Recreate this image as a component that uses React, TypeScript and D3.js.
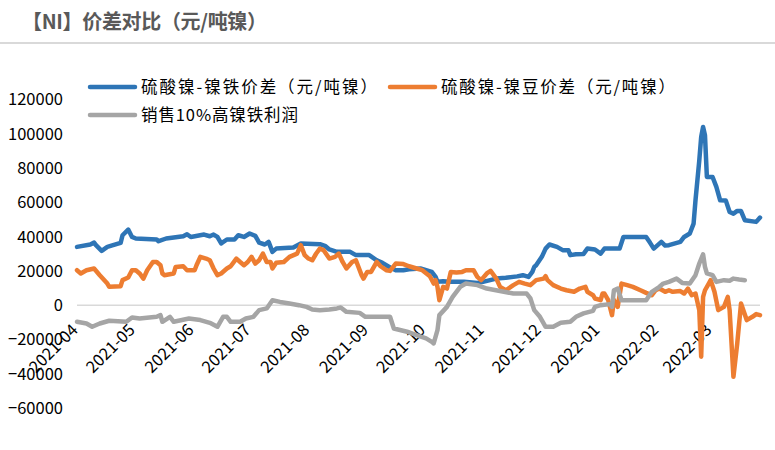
import React from 'react';
import * as d3 from 'd3';

type Pt = [string, number];

const title = '【NI】价差对比（元/吨镍）';
const seriesNames = ['硫酸镍-镍铁价差（元/吨镍）', '硫酸镍-镍豆价差（元/吨镍）', '销售10%高镍铁利润'];
const seriesColors = ['#2E75B6', '#ED7D31', '#A5A5A5'];
const yTicks = [-60000, -40000, -20000, 0, 20000, 40000, 60000, 80000, 100000, 120000];
const dateRange = ['2021-04-01', '2022-03-27'];

// 硫酸镍-镍铁价差
const sulfateNpi: Pt[] = [
  ['2021-04-01', 34000], ['2021-04-08', 35400], ['2021-04-10', 36500], ['2021-04-11', 35000],
  ['2021-04-14', 31700], ['2021-04-17', 34000], ['2021-04-20', 35000], ['2021-04-24', 36300],
  ['2021-04-25', 40800], ['2021-04-28', 44100], ['2021-04-30', 39800], ['2021-05-02', 38900],
  ['2021-05-13', 38300], ['2021-05-14', 37300], ['2021-05-18', 38900], ['2021-05-27', 40200],
  ['2021-05-29', 41400], ['2021-05-31', 39800], ['2021-06-07', 41200], ['2021-06-10', 40200],
  ['2021-06-12', 41200], ['2021-06-14', 39800], ['2021-06-16', 36000], ['2021-06-19', 38300],
  ['2021-06-23', 38300], ['2021-06-25', 40800], ['2021-06-28', 39800], ['2021-07-01', 41800],
  ['2021-07-04', 40400], ['2021-07-06', 36500], ['2021-07-09', 35400], ['2021-07-11', 36900],
  ['2021-07-13', 31100], ['2021-07-15', 33000], ['2021-07-24', 33600], ['2021-07-28', 36000],
  ['2021-08-07', 35600], ['2021-08-10', 34400], ['2021-08-12', 32500], ['2021-08-16', 31100],
  ['2021-08-23', 31100], ['2021-08-26', 29200], ['2021-09-02', 29200], ['2021-09-06', 26200],
  ['2021-09-09', 24700], ['2021-09-13', 22000], ['2021-09-16', 20400], ['2021-09-20', 20400],
  ['2021-09-23', 21000], ['2021-09-29', 21400], ['2021-10-02', 20400], ['2021-10-05', 19400],
  ['2021-10-07', 16500], ['2021-10-08', 13600], ['2021-10-11', 14000], ['2021-10-14', 13600],
  ['2021-10-22', 13600], ['2021-10-29', 13000], ['2021-11-01', 13600], ['2021-11-08', 15500],
  ['2021-11-13', 16000], ['2021-11-19', 16800], ['2021-11-22', 17500], ['2021-11-25', 16500],
  ['2021-11-27', 19400], ['2021-11-28', 22300], ['2021-11-29', 23300], ['2021-12-02', 28200],
  ['2021-12-04', 33000], ['2021-12-06', 35400], ['2021-12-10', 34000], ['2021-12-13', 32100],
  ['2021-12-16', 32100], ['2021-12-17', 29200], ['2021-12-20', 29700], ['2021-12-24', 29900],
  ['2021-12-26', 33000], ['2021-12-30', 32500], ['2022-01-02', 30100], ['2022-01-04', 33000],
  ['2022-01-12', 33000], ['2022-01-14', 39800], ['2022-01-26', 39800], ['2022-01-28', 36500],
  ['2022-01-30', 33000], ['2022-02-03', 36900], ['2022-02-05', 34800], ['2022-02-07', 35000],
  ['2022-02-13', 36900], ['2022-02-15', 39800], ['2022-02-18', 41800], ['2022-02-20', 47600],
  ['2022-02-21', 61200], ['2022-02-23', 84500], ['2022-02-24', 98100], ['2022-02-25', 104000],
  ['2022-02-26', 99100], ['2022-02-27', 74800], ['2022-03-02', 74800], ['2022-03-04', 69000],
  ['2022-03-06', 61200], ['2022-03-09', 61000], ['2022-03-11', 54400], ['2022-03-13', 53400],
  ['2022-03-15', 55000], ['2022-03-17', 54900], ['2022-03-19', 49600], ['2022-03-25', 48600],
  ['2022-03-27', 51100],
];

// 硫酸镍-镍豆价差
const sulfateBriquette: Pt[] = [
  ['2021-04-01', 20400], ['2021-04-03', 18500], ['2021-04-06', 20400], ['2021-04-10', 21400],
  ['2021-04-13', 17500], ['2021-04-17', 12600], ['2021-04-18', 10700], ['2021-04-24', 11100],
  ['2021-04-25', 14600], ['2021-04-28', 16100], ['2021-04-30', 20400], ['2021-05-02', 20400],
  ['2021-05-04', 18500], ['2021-05-06', 15500], ['2021-05-08', 20400], ['2021-05-11', 25200],
  ['2021-05-13', 25200], ['2021-05-15', 23300], ['2021-05-16', 18500], ['2021-05-17', 17500],
  ['2021-05-22', 18500], ['2021-05-23', 22300], ['2021-05-27', 22700], ['2021-05-29', 20400],
  ['2021-06-02', 20400], ['2021-06-03', 23300], ['2021-06-05', 28200], ['2021-06-08', 27200],
  ['2021-06-10', 26200], ['2021-06-12', 21400], ['2021-06-14', 17500], ['2021-06-16', 18500],
  ['2021-06-19', 21400], ['2021-06-21', 22700], ['2021-06-24', 27200], ['2021-06-26', 25200],
  ['2021-06-28', 23300], ['2021-06-30', 25200], ['2021-07-02', 28200], ['2021-07-04', 24300],
  ['2021-07-06', 26200], ['2021-07-08', 30100], ['2021-07-10', 25200], ['2021-07-12', 25200],
  ['2021-07-13', 21400], ['2021-07-15', 24700], ['2021-07-19', 25200], ['2021-07-22', 28200],
  ['2021-07-26', 30100], ['2021-07-28', 35000], ['2021-07-30', 29200], ['2021-08-01', 27200],
  ['2021-08-03', 26200], ['2021-08-05', 30000], ['2021-08-07', 33000], ['2021-08-09', 32100],
  ['2021-08-12', 27200], ['2021-08-15', 28200], ['2021-08-17', 30100], ['2021-08-19', 25200],
  ['2021-08-21', 21400], ['2021-08-24', 25200], ['2021-08-26', 26200], ['2021-08-29', 17500],
  ['2021-08-30', 15500], ['2021-09-01', 19400], ['2021-09-03', 19400], ['2021-09-06', 25200],
  ['2021-09-08', 22700], ['2021-09-11', 20400], ['2021-09-13', 20000], ['2021-09-16', 24300],
  ['2021-09-20', 24000], ['2021-09-23', 22700], ['2021-09-27', 21400], ['2021-09-30', 20400],
  ['2021-10-04', 16900], ['2021-10-06', 12600], ['2021-10-07', 14600], ['2021-10-08', 10700],
  ['2021-10-09', 2900], ['2021-10-11', 10700], ['2021-10-13', 9700], ['2021-10-15', 19400],
  ['2021-10-18', 19000], ['2021-10-21', 19400], ['2021-10-23', 20400], ['2021-10-27', 20400],
  ['2021-10-29', 16500], ['2021-10-31', 14600], ['2021-11-03', 18500], ['2021-11-05', 20000],
  ['2021-11-08', 15500], ['2021-11-10', 10700], ['2021-11-13', 8700], ['2021-11-17', 11700],
  ['2021-11-20', 13600], ['2021-11-23', 12600], ['2021-11-26', 11700], ['2021-11-29', 14600],
  ['2021-12-03', 15500], ['2021-12-04', 16900], ['2021-12-05', 14600], ['2021-12-08', 11700],
  ['2021-12-12', 9700], ['2021-12-15', 8700], ['2021-12-19', 7800], ['2021-12-22', 9700],
  ['2021-12-25', 10700], ['2021-12-26', 7800], ['2021-12-29', 5800], ['2021-12-30', 3900],
  ['2022-01-02', 2900], ['2022-01-03', 6800], ['2022-01-04', 6800], ['2022-01-06', 2900],
  ['2022-01-08', -5800], ['2022-01-09', 3000], ['2022-01-11', -1000], ['2022-01-13', 12600],
  ['2022-01-16', 11700], ['2022-01-19', 10700], ['2022-01-23', 8700], ['2022-01-26', 7200],
  ['2022-01-29', 5800], ['2022-01-31', 8700], ['2022-02-02', 9700], ['2022-02-05', 7800],
  ['2022-02-07', 8700], ['2022-02-09', 7800], ['2022-02-13', 8200], ['2022-02-15', 6800],
  ['2022-02-17', 9700], ['2022-02-19', 5800], ['2022-02-21', 6800], ['2022-02-23', -2900],
  ['2022-02-24', -30100], ['2022-02-25', 4800], ['2022-02-26', 8700], ['2022-02-28', 12600],
  ['2022-03-01', 14600], ['2022-03-03', 7800], ['2022-03-05', -2900], ['2022-03-08', -1000],
  ['2022-03-10', 4800], ['2022-03-11', -3000], ['2022-03-13', -41800], ['2022-03-15', -22300],
  ['2022-03-17', 1000], ['2022-03-20', -8700], ['2022-03-23', -6800], ['2022-03-25', -5200],
  ['2022-03-27', -5800],
];

// 销售10%高镍铁利润
const npiProfit: Pt[] = [
  ['2021-04-01', -9700], ['2021-04-06', -10700], ['2021-04-09', -12600], ['2021-04-13', -10700],
  ['2021-04-18', -9100], ['2021-04-27', -9700], ['2021-04-30', -7200], ['2021-05-04', -7800],
  ['2021-05-13', -6800], ['2021-05-15', -5800], ['2021-05-16', -9700], ['2021-05-20', -6800],
  ['2021-05-22', -9700], ['2021-05-30', -7800], ['2021-06-05', -8700], ['2021-06-10', -10300],
  ['2021-06-14', -12600], ['2021-06-17', -6800], ['2021-06-19', -6800], ['2021-06-21', -9700],
  ['2021-06-26', -9700], ['2021-06-29', -7800], ['2021-07-03', -6800], ['2021-07-06', -2900],
  ['2021-07-10', -1900], ['2021-07-13', 2900], ['2021-07-17', 1900], ['2021-07-22', 1000],
  ['2021-07-27', 0], ['2021-07-31', -1000], ['2021-08-03', -2500], ['2021-08-07', -2900],
  ['2021-08-12', -2500], ['2021-08-16', -1900], ['2021-08-18', -1400], ['2021-08-21', -3900],
  ['2021-08-28', -4500], ['2021-08-31', -6800], ['2021-09-13', -6800], ['2021-09-15', -13600],
  ['2021-09-22', -15500], ['2021-09-27', -17500], ['2021-10-02', -19400], ['2021-10-05', -21400],
  ['2021-10-06', -22300], ['2021-10-08', -14600], ['2021-10-09', -5800], ['2021-10-13', -1000],
  ['2021-10-16', 4800], ['2021-10-20', 10700], ['2021-10-23', 12600], ['2021-10-29', 11700],
  ['2021-11-03', 9700], ['2021-11-12', 7800], ['2021-11-17', 6800], ['2021-11-24', 6800],
  ['2021-11-26', 3900], ['2021-11-28', -2900], ['2021-12-01', -6800], ['2021-12-04', -12600],
  ['2021-12-08', -12600], ['2021-12-12', -10300], ['2021-12-17', -9700], ['2021-12-20', -6800],
  ['2021-12-24', -4800], ['2021-12-29', -3300], ['2021-12-30', -1000], ['2022-01-02', 0],
  ['2022-01-07', 600], ['2022-01-08', -1000], ['2022-01-09', 8700], ['2022-01-11', 9700],
  ['2022-01-13', 2900], ['2022-01-26', 2900], ['2022-01-29', 7800], ['2022-02-02', 10700],
  ['2022-02-04', 12600], ['2022-02-07', 13600], ['2022-02-11', 15500], ['2022-02-14', 13000],
  ['2022-02-18', 12600], ['2022-02-21', 17500], ['2022-02-23', 24300], ['2022-02-25', 29700],
  ['2022-02-26', 22300], ['2022-02-27', 18500], ['2022-03-02', 17500], ['2022-03-04', 13600],
  ['2022-03-08', 14600], ['2022-03-11', 14300], ['2022-03-13', 15500], ['2022-03-16', 15000],
  ['2022-03-19', 14600],
];

const allSeries = [sulfateNpi, sulfateBriquette, npiProfit];

const W = 775;
const H = 450;
const FONT = '"Noto Sans CJK SC", "Noto Sans", sans-serif';
const parseDate = d3.timeParse('%Y-%m-%d');

export default function App() {
  const x = d3.scaleTime()
    .domain(dateRange.map(d => parseDate(d) as Date))
    .range([77, 760]);
  const y = d3.scaleLinear().domain([-60000, 120000]).range([408, 99.5]);

  const line = d3.line<Pt>()
    .x(d => x(parseDate(d[0]) as Date))
    .y(d => y(d[1]));

  const months = x.ticks(d3.timeMonth.every(1) as d3.TimeInterval);
  const monthFmt = d3.timeFormat('%Y-%m');
  const yFmt = d3.format('d');

  // legend layout: sample line start [x, y] and text width
  const legendPos = [[90, 87, 236], [390, 87, 234], [90, 115, 157]];

  return (
    <div style={{ position: 'absolute', left: 0, top: 0 }}>
      <svg width={W} height={H} style={{ display: 'block', background: '#fff' }} fontFamily={FONT}>
        <text x={22} y={29} fontSize={20} fontWeight="bold" fill="#595959"
          textLength={245} lengthAdjust="spacing">{title}</text>
        <line x1={0} x2={W} y1={43} y2={43} stroke="#d9d9d9" strokeWidth={2} />

        {/* y axis labels */}
        {yTicks.map(t => (
          <text key={t} x={63} y={y(t)} dy="0.36em" textAnchor="end" fontSize={16.5} fill="#000">
            {yFmt(t)}
          </text>
        ))}

        {/* zero line */}
        <line x1={x.range()[0]} x2={x.range()[1]} y1={y(0)} y2={y(0)} stroke="#d9d9d9" strokeWidth={1.5} />

        {/* month labels */}
        {months.map(m => (
          <text key={m.getTime()} transform={`translate(${x(m) + 2},${331}) rotate(-45)`}
            textAnchor="end" fontSize={16.5} fill="#000">
            {monthFmt(m)}
          </text>
        ))}

        {/* series */}
        {allSeries.map((s, i) => (
          <path key={i} d={line(s) ?? ''} fill="none" stroke={seriesColors[i]}
            strokeWidth={4.5} strokeLinejoin="round" strokeLinecap="round" />
        ))}

        {/* legend */}
        {seriesNames.map((name, i) => (
          <g key={name} transform={`translate(${legendPos[i][0]},${legendPos[i][1]})`}>
            <line x1={0} x2={45} y1={0} y2={0} stroke={seriesColors[i]} strokeWidth={4.5} strokeLinecap="round" />
            <text x={51} y={0} dy="0.36em" fontSize={16.5} fill="#000"
              textLength={legendPos[i][2]} lengthAdjust="spacing">{name}</text>
          </g>
        ))}
      </svg>
    </div>
  );
}
